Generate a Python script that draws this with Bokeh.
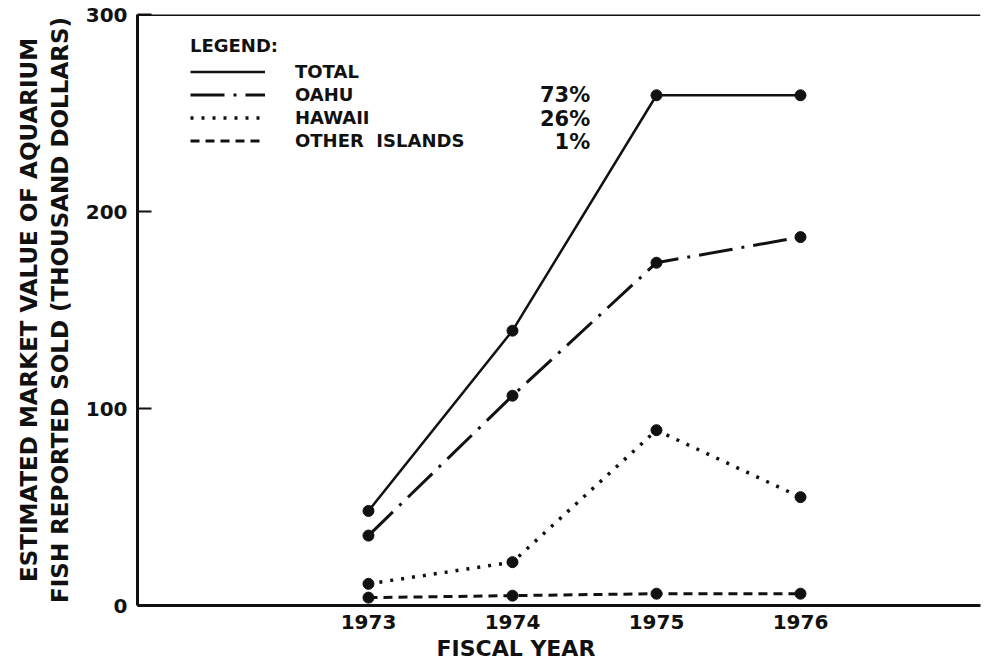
from bokeh.plotting import figure
from bokeh.models import (Range1d, FixedTicker, Span, Title, Legend, LegendItem,
                          ColumnDataSource)
from bokeh.core.properties import value
from bokeh.embed import file_html
from bokeh.resources import INLINE

years = [1973, 1974, 1975, 1976]
total = [48, 139.5, 259, 259]
oahu = [35.5, 106.5, 174, 187]
hawaii = [11, 22, 89, 55]
other = [4, 5, 6, 6]
y_ticks = [0, 100, 200, 300]
pct_labels = ["73%", "26%", "1%"]

FONT = "DejaVu Sans"
INK = "#111111"

p = figure(width=985, height=664, output_backend="svg", toolbar_location=None,
           x_range=Range1d(1971.396, 1977.25), y_range=Range1d(0, 300),
           min_border_left=137, min_border_right=5, min_border_top=14,
           min_border_bottom=59, background_fill_color="white",
           border_fill_color="white", outline_line_color=None)
p.xgrid.visible = False
p.ygrid.visible = False

# axes
p.xaxis.ticker = FixedTicker(ticks=years)
p.xaxis.major_tick_line_color = None
p.xaxis.minor_tick_line_color = None
p.xaxis.axis_line_width = 3
p.xaxis.axis_line_color = INK
p.xaxis.major_label_text_font = FONT
p.xaxis.major_label_text_font_style = "bold"
p.xaxis.major_label_text_font_size = "20px"
p.xaxis.major_label_text_color = INK
p.xaxis.major_label_standoff = 3

p.yaxis.ticker = FixedTicker(ticks=y_ticks)
p.yaxis.major_tick_in = 14
p.yaxis.major_tick_out = 0
p.yaxis.major_tick_line_width = 2
p.yaxis.major_tick_line_color = INK
p.yaxis.minor_tick_line_color = None
p.yaxis.axis_line_width = 3
p.yaxis.axis_line_color = INK
p.yaxis.major_label_text_font = FONT
p.yaxis.major_label_text_font_style = "bold"
p.yaxis.major_label_text_font_size = "20px"
p.yaxis.major_label_text_color = INK
p.yaxis.major_label_standoff = 10
p.yaxis.axis_label = "ESTIMATED MARKET VALUE OF AQUARIUM\nFISH REPORTED SOLD (THOUSAND DOLLARS)"
p.yaxis.axis_label_text_font = FONT
p.yaxis.axis_label_text_font_style = "bold"
p.yaxis.axis_label_text_font_size = "23px"
p.yaxis.axis_label_text_color = INK
p.yaxis.axis_label_standoff = 10

# top border line
p.add_layout(Span(location=300, dimension="width", line_color=INK, line_width=3))

# series
r_total = p.line(years, total, line_color=INK, line_width=2.5)
r_oahu = p.line(years, oahu, line_color=INK, line_width=3, line_dash="34 9 3 9")
r_hawaii = p.line(years, hawaii, line_color=INK, line_width=3.5, line_dash="3 8")
r_other = p.line(years, other, line_color=INK, line_width=3, line_dash="9 6")
for ys in (total, oahu, hawaii, other):
    p.scatter(years, ys, size=11, marker="circle", fill_color=INK, line_color=INK)

legend = Legend(items=[
    LegendItem(label="TOTAL", renderers=[r_total]),
    LegendItem(label="OAHU", renderers=[r_oahu]),
    LegendItem(label="HAWAII", renderers=[r_hawaii]),
    LegendItem(label="OTHER  ISLANDS", renderers=[r_other]),
], location=(53, 453), title="LEGEND:", orientation="vertical",
   glyph_width=75, glyph_height=23, label_height=23, label_standoff=30,
   spacing=0, padding=0, margin=0, border_line_color=None,
   background_fill_alpha=0,
   label_text_font=FONT, label_text_font_style="bold",
   label_text_font_size="18px", label_text_color=INK,
   title_text_font=FONT, title_text_font_style="bold",
   title_text_font_size="18px", title_text_color=INK, title_standoff=4)
p.add_layout(legend)

# percentage column of legend
pct_src = ColumnDataSource(dict(x=[1974.54] * 3, y=[258.9, 247.2, 235.5], t=pct_labels))
p.text(x="x", y="y", text="t", source=pct_src, text_align="right",
       text_baseline="middle", text_font=value(FONT), text_font_style="bold",
       text_font_size="21px", text_color=INK)

# x axis title (shifted left like the reference)
p.add_layout(Title(text="FISCAL YEAR", align="left", offset=299,
                   text_font=FONT, text_font_style="bold",
                   text_font_size="22px", text_color=INK, standoff=5), "below")

open("out.html", "w").write(file_html(p, INLINE))
